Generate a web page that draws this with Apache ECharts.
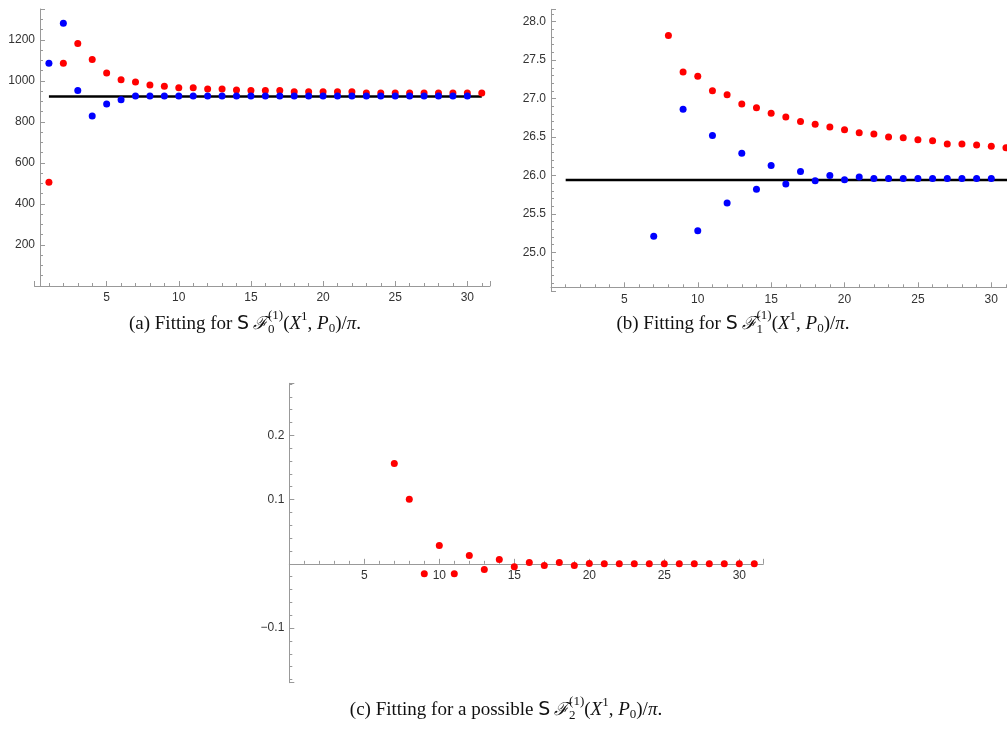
<!DOCTYPE html>
<html>
<head>
<meta charset="utf-8">
<script src="https://cdn.jsdelivr.net/npm/echarts@6/dist/echarts.min.js"></script>
<style>
html,body{margin:0;padding:0;background:#fff;}
#chart{width:1007px;height:729px;}
</style>
</head>
<body>
<div id="chart"></div>
<script>
// ---------- data ----------
// Panel (a)
const aRedX  = [1,2,3,4,5,6,7,8,9,10,11,12,13,14,15,16,17,18,19,20,21,22,23,24,25,26,27,28,29,30,31];
const aRedY  = [506,1085,1182,1104,1038,1005,994,980,973,966,966,960,960,955,953,953,953,947,947,947,947,947,941,941,941,941,941,941,941,941,941];
const aBlueX = [1,2,3,4,5,6,7,8,9,10,11,12,13,14,15,16,17,18,19,20,21,22,23,24,25,26,27,28,29,30];
const aBlueY = [1085,1281,953,829,887,908,926,926,926,926,926,926,926,926,926,926,926,926,926,926,926,926,926,926,926,926,926,926,926,926];
const aLineX = [1,31];
const aLineY = [924,924];
// Panel (b)
const bRedX  = [8,9,10,11,12,13,14,15,16,17,18,19,20,21,22,23,24,25,26,27,28,29,30,31];
const bRedY  = [27.82,27.345,27.29,27.10,27.05,26.93,26.88,26.81,26.76,26.70,26.665,26.63,26.595,26.555,26.54,26.50,26.49,26.465,26.45,26.41,26.41,26.395,26.38,26.36];
const bBlueX = [7,9,10,11,12,13,14,15,16,17,18,19,20,21,22,23,24,25,26,27,28,29,30];
const bBlueY = [25.21,26.86,25.28,26.52,25.64,26.29,25.82,26.13,25.89,26.05,25.93,26.00,25.945,25.98,25.96,25.96,25.96,25.96,25.96,25.96,25.96,25.96,25.96];
const bLineX = [1,32];
const bLineY = [25.94,25.94];
// Panel (c)
const cRedX  = [7,8,9,10,11,12,13,14,15,16,17,18,19,20,21,22,23,24,25,26,27,28,29,30,31];
const cRedY  = [0.156,0.1006,-0.0155,0.0286,-0.0155,0.013,-0.0088,0.0068,-0.0047,0.002,-0.0026,0.002,-0.0026,0.0004,0.0002,0.0002,0.0001,0.0001,0.0001,0.0001,0,0,0,0,0];

const captionA = ['(a) Fitting for ', '0'];
const captionB = ['(b) Fitting for ', '1'];
const captionC = ['(c) Fitting for a possible ', '2'];

function pairs(xs, ys){ return xs.map((x,i)=>[x, ys[i]]); }

// ---------- styles ----------
const AX = '#999999';
const LBL = '#333333';
const TICKFONT = {color: LBL, fontSize: 12, fontFamily: 'Liberation Sans, Arial, sans-serif'};

function xAxisCfg(grid, min, max, extra){
  return Object.assign({
    type:'value', gridIndex:grid, min:min, max:max, interval:5,
    axisLine:{show:true, onZero:false, lineStyle:{color:AX, width:1}},
    axisTick:{show:true, inside:true, length:5, lineStyle:{color:AX}},
    minorTick:{show:true, splitNumber:5, length:3, lineStyle:{color:AX}},
    splitLine:{show:false},
    axisLabel:Object.assign({margin:6, showMinLabel:false, showMaxLabel:false,
      formatter:(v)=> (v===0?'':String(v))}, TICKFONT)
  }, extra||{});
}
function yAxisCfg(grid, min, max, interval, minorSplit, fmt, extra){
  return Object.assign({
    type:'value', gridIndex:grid, min:min, max:max, interval:interval,
    axisLine:{show:true, onZero:false, lineStyle:{color:AX, width:1}},
    axisTick:{show:true, inside:true, length:5, lineStyle:{color:AX}},
    minorTick:{show:true, splitNumber:minorSplit, length:3, lineStyle:{color:AX}},
    splitLine:{show:false},
    axisLabel:Object.assign({margin:5, showMinLabel:false, showMaxLabel:false, formatter:fmt}, TICKFONT)
  }, extra||{});
}

function dots(name, x, y, color, xi, yi){
  return {type:'scatter', name:name, xAxisIndex:xi, yAxisIndex:yi, data:pairs(x,y),
    symbol:'circle', symbolSize:7, itemStyle:{color:color, opacity:1}, clip:false, silent:true, z:3};
}
function hline(x, y, xi, yi){
  return {type:'line', xAxisIndex:xi, yAxisIndex:yi, data:pairs(x,y), showSymbol:false, symbol:'none',
    lineStyle:{color:'#000', width:2.5}, silent:true, z:2, clip:true};
}

// ---------- caption builder ----------
const measCtx = document.createElement('canvas').getContext('2d');
function tw(t, font){ measCtx.font = font; return measCtx.measureText(t).width; }
function caption(parts, cx, cy){
  const FS = 19, SS = 13;
  const rm = FS+'px ' + '"Liberation Serif", serif';
  const it = 'italic ' + FS + 'px "Liberation Serif", serif';
  const sm = SS + 'px "Liberation Serif", serif';
  const pieces = [
    {t:parts[0], f:rm},
    {t:'S', f:FS+'px "DejaVu Sans", sans-serif'},
    {t:'\u2009', f:rm},
    {t:'\u2131', f:'italic ' + (FS-1) + 'px "DejaVu Serif", serif'},
    {t:'(1)', f:sm, dy:-8, stackStart:true},
    {t:parts[1], f:sm, dy:6, stack:true},
    {t:'(', f:rm},
    {t:'X', f:it},
    {t:'1', f:sm, dy:-7},
    {t:', ', f:rm},
    {t:'P', f:it},
    {t:'0', f:sm, dy:5},
    {t:')/', f:rm},
    {t:'\u03c0', f:it},
    {t:'.', f:rm}
  ];
  let x = 0, stackX = 0, stackW = 0;
  const placed = [];
  pieces.forEach(p=>{
    const w = tw(p.t, p.f);
    if (p.stackStart){ stackX = x; stackW = w; placed.push({p, x}); x += w; }
    else if (p.stack){ placed.push({p, x:stackX}); if (w>stackW){ x = stackX + w; } }
    else { placed.push({p, x}); x += w; }
  });
  const total = x;
  const left = cx - total/2;
  return placed.map(o=>({
    type:'text', x:left + o.x, y:cy + (o.p.dy||0), silent:true,
    style:{text:o.p.t, font:o.p.f, fill:'#111', align:'left', verticalAlign:'middle'}
  }));
}

// ---------- chart ----------
const chart = echarts.init(document.getElementById('chart'), null, {renderer:'canvas'});
const cGrid = {left:289.3, top:383.3, width:474, height:299.4};
const cYMin = -0.185, cYMax = 0.281;
const cZeroOffset = -(cGrid.height * (0 - cYMin) / (cYMax - cYMin));
const option = {
  animation:false,
  backgroundColor:'#ffffff',
  grid:[
    {left:34.5, top:9, width:455.5, height:277, containLabel:false},
    {left:551, top:9.3, width:456, height:281.5, containLabel:false},
    Object.assign({containLabel:false}, cGrid)
  ],
  xAxis:[
    xAxisCfg(0, 0, 31.57),
    xAxisCfg(1, 0, 31.07, {offset:-3.5}),
    xAxisCfg(2, 0, 31.6, {offset:cZeroOffset})
  ],
  yAxis:[
    yAxisCfg(0, 0, 1350, 200, 4, (v)=>String(v), {offset:-5.5}),
    yAxisCfg(1, 24.5, 28.16, 0.5, 5, (v)=>v.toFixed(1)),
    yAxisCfg(2, cYMin, cYMax, null, 5, (v)=>{
      const r = Math.round(v*10)/10;
      if (Math.abs(v - r) > 1e-6 || r===0) return '';
      return (r<0 ? '\u2212' : '') + Math.abs(r).toFixed(1);
    })
  ],
  series:[
    hline(aLineX, aLineY, 0, 0),
    dots('a-red', aRedX, aRedY, '#ff0000', 0, 0),
    dots('a-blue', aBlueX, aBlueY, '#0000ff', 0, 0),
    hline(bLineX, bLineY, 1, 1),
    dots('b-red', bRedX, bRedY, '#ff0000', 1, 1),
    dots('b-blue', bBlueX, bBlueY, '#0000ff', 1, 1),
    dots('c-red', cRedX, cRedY, '#ff0000', 2, 2)
  ],
  graphic:[].concat(
    caption(captionA, 245, 324),
    caption(captionB, 733, 324),
    caption(captionC, 506, 710)
  )
};
chart.setOption(option);
</script>
</body>
</html>
